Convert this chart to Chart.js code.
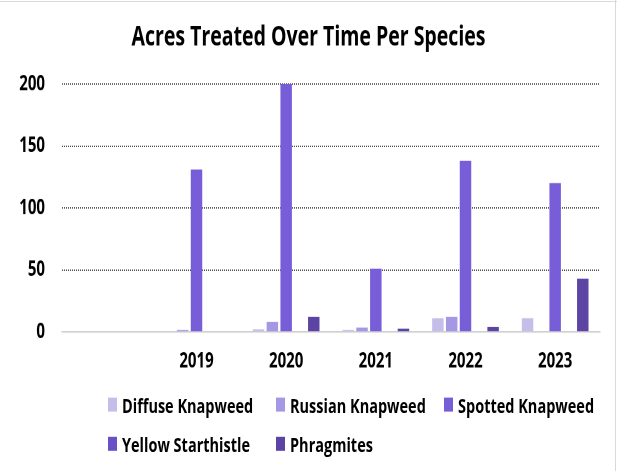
<!DOCTYPE html>
<html>
<head>
<meta charset="utf-8">
<script src="https://cdn.jsdelivr.net/npm/chart.js@4.4.1/dist/chart.umd.min.js"></script>
<style>
  html, body { margin: 0; padding: 0; background: #fff; }
  #frame { position: relative; width: 617px; height: 471px; overflow: hidden; background: #fff; }
  /* chart is laid out on a shorter stage and stretched vertically */
  #stage { position: absolute; left: 0; top: 0; width: 617px; height: 336px;
           transform: scaleY(1.4); transform-origin: 0 0; }
  #c { display: block; }
  #legend { position: absolute; left: 0; top: 0; width: 617px; height: 336px; pointer-events: none;
            font-family: "Open Sans", Lato, sans-serif; font-weight: bold; font-size: 14.5px; color: #000; }
  .item { position: absolute; display: flex; align-items: center; height: 14px; white-space: nowrap; }
  .swatch { width: 9px; height: 10px; margin-right: 5px; flex: none; }
  .edge-top { position: absolute; left: 0; top: 1px; width: 617px; height: 1px; background: #d9d9d9; }
  .edge-right { position: absolute; left: 615px; top: 0; width: 1px; height: 471px; background: #d9d9d9; }
</style>
</head>
<body>
<div id="frame">
  <div id="stage">
    <canvas id="c" width="617" height="336"></canvas>
    <div id="legend"></div>
  </div>
  <div class="edge-top"></div>
  <div class="edge-right"></div>
</div>
<script>
// Acres treated per year, by species
const years = ['', '2019', '2020', '2021', '2022', '2023'];
const diffuseKnapweed   = [null, null, 2,   1.5, 11,  11];
const russianKnapweed   = [null, 1.5,  8,   3.5, 12,  null];
const spottedKnapweed   = [null, 131,  200, 51,  138, 120];
const yellowStarthistle = [null, null, null, null, null, null];
const phragmites        = [null, null, 12,  2.5, 4,   43];

const seriesNames  = ['Diffuse Knapweed', 'Russian Knapweed', 'Spotted Knapweed', 'Yellow Starthistle', 'Phragmites'];
const seriesColors = ['#c5bdea', '#a597e3', '#775dd8', '#6a4fc6', '#5b44a3'];
const yTicks = [0, 50, 100, 150, 200];

const seriesData = [diffuseKnapweed, russianKnapweed, spottedKnapweed, yellowStarthistle, phragmites];
const datasets = seriesNames.map((name, i) => ({
  label: name,
  data: seriesData[i],
  backgroundColor: seriesColors[i],
  borderWidth: 0,
  categoryPercentage: 0.77,
  barPercentage: 0.83
}));

const font = (size) => ({ family: '"Open Sans", Lato, sans-serif', weight: 'bold', size });

const chart = new Chart(document.getElementById('c'), {
  type: 'bar',
  data: { labels: years, datasets },
  options: {
    responsive: false,
    devicePixelRatio: 2,
    animation: false,
    layout: { padding: { left: 17, right: 17, top: 0, bottom: 0 } },
    plugins: {
      legend: { display: false },
      tooltip: { enabled: false },
      title: {
        display: true,
        text: 'Acres Treated Over Time Per Species',
        color: '#000',
        font: font(19.5),
        padding: { top: 15, bottom: 21.6 }
      }
    },
    scales: {
      x: {
        grid: { display: false },
        border: { display: true, color: '#d0d0d0', width: 1.1 },
        ticks: { color: '#000', font: font(15), padding: 4, maxRotation: 0, autoSkip: false },
        afterFit: (s) => { s.height = 99; }
      },
      y: {
        min: 0,
        max: 200,
        afterBuildTicks: (s) => { s.ticks = yTicks.map(v => ({ value: v })); },
        grid: {
          drawTicks: false,
          lineWidth: 0.75,
          color: (ctx) => (ctx.tick && ctx.tick.value === 0) ? 'rgba(0,0,0,0)' : '#111'
        },
        border: { display: false, dash: [1, 1] },
        ticks: { color: '#000', font: font(15), padding: 17 },
        afterFit: (s) => { s.width = 45; }
      }
    }
  }
});

// legend laid out in a fixed three-column grid
const legend = document.getElementById('legend');
const colX = [108, 276, 444];
const rowY = [282, 310];
seriesNames.forEach((name, i) => {
  const el = document.createElement('div');
  el.className = 'item';
  el.style.left = colX[i % 3] + 'px';
  el.style.top = rowY[Math.floor(i / 3)] + 'px';
  const sw = document.createElement('span');
  sw.className = 'swatch';
  sw.style.background = seriesColors[i];
  const tx = document.createElement('span');
  tx.textContent = name;
  el.appendChild(sw);
  el.appendChild(tx);
  legend.appendChild(el);
});
</script>
</body>
</html>
